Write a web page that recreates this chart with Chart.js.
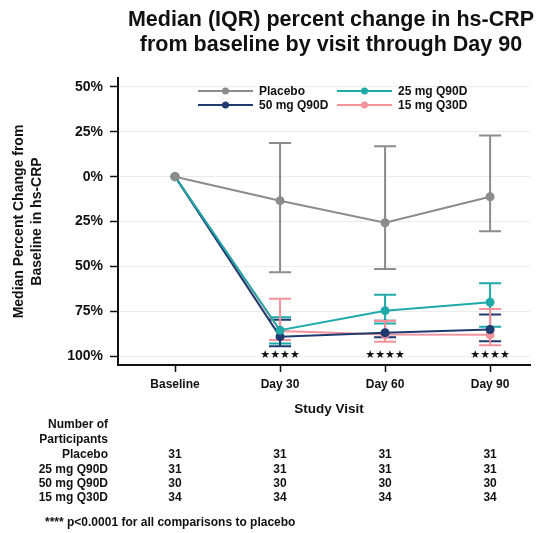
<!DOCTYPE html>
<html>
<head>
<meta charset="utf-8">
<script src="https://cdn.jsdelivr.net/npm/chart.js@4"></script>
<style>
  html, body { margin: 0; padding: 0; background: #fff; }
  #wrap { width: 547px; height: 533px; }
</style>
</head>
<body>
<div id="wrap"><canvas id="crp" width="547" height="533"></canvas></div>
<script>
// hs-CRP percent change, median + IQR by visit
const visits = ['Baseline', 'Day 30', 'Day 60', 'Day 90'];
const yTicks = [50, 25, 0, -25, -50, -75, -100];
const groups = ['Placebo', '25 mg Q90D', '50 mg Q90D', '15 mg Q30D'];
const colors = ['#8c8c8c', '#1fa9a8', '#1f3a6e', '#f3929b'];

const placeboMed = [0, -13.4, -25.7, -11.2];
const placeboLo  = [null, -53.3, -51.5, -30.5];
const placeboHi  = [null, 18.8, 17.0, 22.9];

const q90d25Med = [0, -85.6, -74.7, -70.0];
const q90d25Lo  = [null, -93.0, -81.9, -83.7];
const q90d25Hi  = [null, -78.4, -65.9, -59.4];

const q90d50Med = [0, -89.2, -87.0, -85.2];
const q90d50Lo  = [null, -94.5, -89.5, -91.7];
const q90d50Hi  = [null, -79.8, -80.3, -76.9];

const q30d15Med = [0, -86.1, -88.0, -88.2];
const q30d15Lo  = [null, -91.0, -92.0, -94.0];
const q30d15Hi  = [null, -68.1, -80.5, -73.8];

const starVisits = [1, 2, 3];

const nRowLabels = ['Placebo', '25 mg Q90D', '50 mg Q90D', '15 mg Q30D'];
const nPlacebo = [31, 31, 31, 31];
const n25 = [31, 31, 31, 31];
const n50 = [30, 30, 30, 30];
const n15 = [34, 34, 34, 34];

const FONT = "'Liberation Sans', Arial, sans-serif";
Chart.defaults.font.family = FONT;
Chart.defaults.color = '#111';

const meds = [placeboMed, q90d25Med, q90d50Med, q30d15Med];
const los  = [placeboLo, q90d25Lo, q90d50Lo, q30d15Lo];
const his  = [placeboHi, q90d25Hi, q90d50Hi, q30d15Hi];

const toPts = arr => arr.map((v, i) => ({ x: i, y: v }));

const errorBars = {
  id: 'errorBars',
  beforeDatasetsDraw(chart) {
    const { ctx, scales: { x, y } } = chart;
    ctx.save();
    ctx.lineWidth = 2;
    groups.forEach((g, k) => {
      ctx.strokeStyle = colors[k];
      los[k].forEach((lo, i) => {
        const hi = his[k][i];
        if (lo == null || hi == null) return;
        const px = x.getPixelForValue(i);
        const a = y.getPixelForValue(lo), b = y.getPixelForValue(hi);
        ctx.beginPath();
        ctx.moveTo(px, a); ctx.lineTo(px, b);
        ctx.moveTo(px - 11, a); ctx.lineTo(px + 11, a);
        ctx.moveTo(px - 11, b); ctx.lineTo(px + 11, b);
        ctx.stroke();
      });
    });
    ctx.restore();
  }
};

const extras = {
  id: 'extras',
  afterDraw(chart) {
    const { ctx, chartArea: ca, scales: { x, y } } = chart;
    const cx = (ca.left + ca.right) / 2;
    ctx.save();
    ctx.fillStyle = '#111';
    ctx.textAlign = 'center';
    ctx.textBaseline = 'middle';

    // title
    ctx.font = `bold 21.5px ${FONT}`;
    ctx.fillText('Median (IQR) percent change in hs-CRP', cx + 7, 20);
    ctx.fillText('from baseline by visit through Day 90', cx + 7, 45);

    // y title
    ctx.save();
    ctx.translate(19, (ca.top + ca.bottom) / 2);
    ctx.rotate(-Math.PI / 2);
    ctx.font = `bold 14px ${FONT}`;
    ctx.fillText('Median Percent Change from', 0, 0);
    ctx.fillText('Baseline in hs-CRP', 0, 18);
    ctx.restore();

    // stars
    ctx.font = `11px 'DejaVu Sans', sans-serif`;
    starVisits.forEach(i => {
      ctx.fillText('★★★★', x.getPixelForValue(i), y.getPixelForValue(-100) - 1);
    });

    // x title
    ctx.font = `bold 13.5px ${FONT}`;
    ctx.fillText('Study Visit', cx + 5, 409);

    // participants table
    ctx.font = `bold 12px ${FONT}`;
    ctx.textAlign = 'right';
    ctx.fillText('Number of', 108, 425);
    ctx.fillText('Participants', 108, 440);
    const rows = [nPlacebo, n25, n50, n15];
    rows.forEach((r, k) => {
      const ry = 455 + k * 14.3;
      ctx.textAlign = 'right';
      ctx.fillText(nRowLabels[k], 108, ry);
      ctx.textAlign = 'center';
      r.forEach((n, i) => ctx.fillText(String(n), x.getPixelForValue(i), ry));
    });

    // footnote
    ctx.textAlign = 'left';
    ctx.font = `bold 12px ${FONT}`;
    ctx.fillText('**** p<0.0001 for all comparisons to placebo', 45, 523);

    // legend (2 x 2)
    const slots = [[198, 91], [337, 91], [198, 105], [337, 105]];
    ctx.font = `bold 12px ${FONT}`;
    groups.forEach((g, k) => {
      const [lx, ly] = slots[k];
      ctx.strokeStyle = colors[k];
      ctx.lineWidth = 2;
      ctx.beginPath();
      ctx.moveTo(lx, ly); ctx.lineTo(lx + 55, ly);
      ctx.stroke();
      ctx.fillStyle = colors[k];
      ctx.beginPath();
      ctx.arc(lx + 27.5, ly, 3.5, 0, Math.PI * 2);
      ctx.fill();
      ctx.fillStyle = '#111';
      ctx.textAlign = 'left';
      ctx.fillText(g, lx + 61, ly + 0.5);
    });
    ctx.restore();
  }
};

new Chart(document.getElementById('crp'), {
  type: 'line',
  data: {
    datasets: groups.map((g, k) => ({
      label: g,
      data: toPts(meds[k]),
      borderColor: colors[k],
      backgroundColor: colors[k],
      borderWidth: 2,
      pointRadius: 3.5,
      pointHoverRadius: 3.5,
      tension: 0,
    })),
  },
  options: {
    responsive: false,
    animation: false,
    layout: { padding: { top: 78, right: 17, left: 0, bottom: 0 } },
    plugins: { legend: { display: false }, tooltip: { enabled: false } },
    scales: {
      x: {
        type: 'linear',
        min: -0.543, max: 3.38,
        afterBuildTicks: s => { s.ticks = visits.map((v, i) => ({ value: i })); },
        afterFit: s => { s.height = 168; },
        ticks: {
          callback: v => visits[v],
          font: { size: 12, weight: 'bold' },
          color: '#111',
          padding: 5,
          maxRotation: 0,
        },
        grid: { drawOnChartArea: false, tickLength: 7, tickColor: '#111', tickWidth: 1.5 },
        border: { color: '#111', width: 2 },
      },
      y: {
        min: -105, max: 55,
        afterBuildTicks: s => { s.ticks = yTicks.map(v => ({ value: v })); },
        afterFit: s => { s.width = 118; },
        ticks: {
          callback: v => Math.abs(v) + '%',
          font: { size: 14, weight: 'bold' },
          color: '#111',
          padding: 7,
        },
        grid: { color: '#ececec', lineWidth: 1, tickLength: 8, tickColor: '#111', tickWidth: 1.5 },
        border: { color: '#111', width: 2 },
      },
    },
  },
  plugins: [errorBars, extras],
});
</script>
</body>
</html>
